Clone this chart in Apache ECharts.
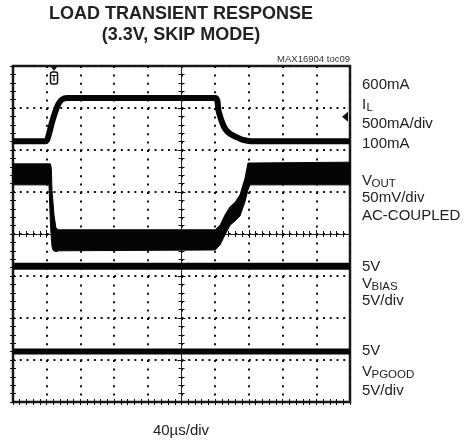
<!DOCTYPE html>
<html>
<head>
<meta charset="utf-8">
<script src="https://cdn.jsdelivr.net/npm/echarts@6/dist/echarts.min.js"></script>
<style>
  html, body { margin: 0; padding: 0; background: #fff; }
  #chart { width: 469px; height: 444px; }
</style>
</head>
<body>
<div id="chart"></div>
<script>
// scope screen: x in us (40us/div, 10 div), y in divisions (8 div)
const timeMin = 0;
const timeMax = 400;
const timeStep = 40;
const divMax = 8;

// inductor current trace (div)
const ilTime = [0, 39, 42, 46, 50, 54, 58, 64, 240, 244, 248, 252, 258, 266, 273, 282, 400];
const ilDiv = [6.21, 6.21, 6.33, 6.64, 6.9, 7.1, 7.2, 7.24, 7.24, 6.93, 6.67, 6.5, 6.38, 6.3, 6.24, 6.21, 6.21];

// output voltage: upper and lower edge of the noisy trace (div)
const voutTime = [0, 40, 42.7, 44.5, 45.5, 46.3, 47.5, 48.7, 51, 54, 240, 245.8, 251.6, 257.6, 263.5, 269.4, 275.4, 278.9, 281.3, 400];
const voutHigh = [5.67, 5.67, 5.67, 5.67, 5.55, 5.05, 4.75, 4.45, 4.14, 4.1, 4.1, 4.21, 4.45, 4.65, 4.75, 4.93, 5.33, 5.69, 5.69, 5.71];
const voutLow = [5.17, 5.17, 5.17, 4.21, 3.9, 3.7, 3.62, 3.6, 3.58, 3.6, 3.62, 3.74, 3.98, 4.21, 4.31, 4.43, 4.77, 5.05, 5.17, 5.17];

// flat logic-level traces
const biasTime = [0, 400];
const biasDiv = [3.23, 3.23];
const pgoodTime = [0, 400];
const pgoodDiv = [1.2, 1.2];

// trigger position and level markers
const trigTime = 48.7;
const trigLevel = 6.79;

const chart = echarts.init(document.getElementById('chart'));

const font = 'Liberation Sans, Arial, sans-serif';

function frameAxis(pos, extra) {
  return Object.assign({
    type: 'value',
    position: pos,
    axisLine: { show: false },
    axisLabel: { show: false },
    axisTick: { show: true, inside: true, length: 3, lineStyle: { color: '#111', width: 1 } },
    minorTick: { show: true, splitNumber: 5, length: 3, lineStyle: { color: '#111', width: 1 } },
    splitLine: { show: false }
  }, extra);
}

function centerAxis(pos, offset, extra) {
  return Object.assign({
    type: 'value',
    position: pos,
    offset: offset,
    axisLine: { show: true, onZero: false, lineStyle: { color: '#222', width: 1 } },
    axisLabel: { show: false },
    axisTick: { show: true, inside: false, length: 4, lineStyle: { color: '#111', width: 1 } },
    minorTick: { show: true, splitNumber: 5, length: 3, lineStyle: { color: '#111', width: 1 } },
    splitLine: { show: false }
  }, extra);
}

const xRange = { min: timeMin, max: timeMax, interval: timeStep };
const yRange = { min: 0, max: divMax, interval: 1 };

const option = {
  animation: false,
  backgroundColor: '#fff',
  grid: {
    left: 13, right: 119, top: 66, bottom: 42,
    show: true, borderColor: '#1a1a1a', borderWidth: 2.5, backgroundColor: 'transparent'
  },
  xAxis: [
    frameAxis('bottom', Object.assign({
      splitLine: { show: true, lineStyle: { color: '#111', width: 2, type: [2, 6.4] } }
    }, xRange)),
    frameAxis('top', Object.assign({}, xRange)),
    centerAxis('bottom', -168, Object.assign({}, xRange)),
    centerAxis('top', -168, Object.assign({}, xRange))
  ],
  yAxis: [
    frameAxis('left', Object.assign({
      splitLine: { show: true, lineStyle: { color: '#111', width: 2, type: [2, 4.74] } }
    }, yRange)),
    frameAxis('right', Object.assign({}, yRange)),
    centerAxis('left', -168.5, Object.assign({}, yRange)),
    centerAxis('right', -168.5, Object.assign({}, yRange))
  ],
  series: [
    {
      name: 'VOUT',
      type: 'custom',
      xAxisIndex: 0,
      yAxisIndex: 0,
      silent: true,
      data: [[0, 0]],
      renderItem: function (params, api) {
        const pts = [];
        for (let i = 0; i < voutTime.length; i++) pts.push(api.coord([voutTime[i], voutHigh[i]]));
        for (let i = voutTime.length - 1; i >= 0; i--) pts.push(api.coord([voutTime[i], voutLow[i]]));
        return { type: 'polygon', shape: { points: pts }, style: { fill: '#050505', stroke: '#050505', lineWidth: 1 } };
      }
    },
    {
      name: 'IL',
      type: 'line',
      xAxisIndex: 0, yAxisIndex: 0,
      data: ilTime.map((t, i) => [t, ilDiv[i]]),
      showSymbol: false, smooth: 0.3,
      lineStyle: { color: '#050505', width: 6 }
    },
    {
      name: 'VBIAS',
      type: 'line',
      xAxisIndex: 0, yAxisIndex: 0,
      data: biasTime.map((t, i) => [t, biasDiv[i]]),
      showSymbol: false,
      lineStyle: { color: '#050505', width: 7 }
    },
    {
      name: 'VPGOOD',
      type: 'line',
      xAxisIndex: 0, yAxisIndex: 0,
      data: pgoodTime.map((t, i) => [t, pgoodDiv[i]]),
      showSymbol: false,
      lineStyle: { color: '#050505', width: 6 }
    }
  ]
};

chart.setOption(option);

// right-side labels
function txt(x, y, s, size, extra) {
  return {
    type: 'text', x: x, y: y, silent: true,
    style: Object.assign({ text: s, fontSize: size, fontFamily: font, fill: '#222', verticalAlign: 'middle', align: 'left' }, extra || {})
  };
}

function subLabel(x, y, main, sub, mainW) {
  return [
    txt(x, y, main, 15),
    txt(x + mainW, y + 3, sub, 11.5)
  ];
}

const lx = 362;
const elements = [
  txt(181, 14, 'LOAD TRANSIENT RESPONSE', 18, { align: 'center', fontWeight: 'bold' }),
  txt(181, 35, '(3.3V, SKIP MODE)', 18, { align: 'center', fontWeight: 'bold' }),
  txt(350, 59, 'MAX16904 toc09', 9.5, { align: 'right', fill: '#333' }),
  txt(181, 431, '40\u00b5s/div', 15, { align: 'center' }),
  txt(lx, 85, '600mA', 15),
  txt(lx, 124, '500mA/div', 15),
  txt(lx, 144, '100mA', 15),
  txt(lx, 197.5, '50mV/div', 15),
  txt(lx, 216, 'AC-COUPLED', 15),
  txt(lx, 267, '5V', 15),
  txt(lx, 301, '5V/div', 15),
  txt(lx, 351, '5V', 15),
  txt(lx, 391, '5V/div', 15)
].concat(
  subLabel(lx, 105, 'I', 'L', 4.5),
  subLabel(lx, 181, 'V', 'OUT', 9.5),
  subLabel(lx, 284, 'V', 'BIAS', 9.5),
  subLabel(lx, 372, 'V', 'PGOOD', 9.5)
);

// trigger marker (top) and trigger level marker (right edge)
const tp = chart.convertToPixel({ xAxisIndex: 0, yAxisIndex: 0 }, [trigTime, divMax]);
const lp = chart.convertToPixel({ xAxisIndex: 0, yAxisIndex: 0 }, [timeMax, trigLevel]);
elements.push(
  { type: 'polygon', silent: true, shape: { points: [[tp[0] - 3, tp[1] + 1], [tp[0] + 3, tp[1] + 1], [tp[0], tp[1] + 5]] }, style: { fill: '#111' } },
  { type: 'rect', silent: true, shape: { x: tp[0] - 3.5, y: tp[1] + 6, width: 7, height: 12, r: 2 }, style: { fill: '#fff', stroke: '#111', lineWidth: 1.5 } },
  txt(tp[0], tp[1] + 12.5, 'T', 9, { align: 'center', fontWeight: 'bold', fill: '#111' }),
  { type: 'polygon', silent: true, shape: { points: [[lp[0] - 8, lp[1]], [lp[0] - 2, lp[1] - 5], [lp[0] - 2, lp[1] + 5]] }, style: { fill: '#111' } }
);

chart.setOption({ graphic: { elements: elements } });
</script>
</body>
</html>
